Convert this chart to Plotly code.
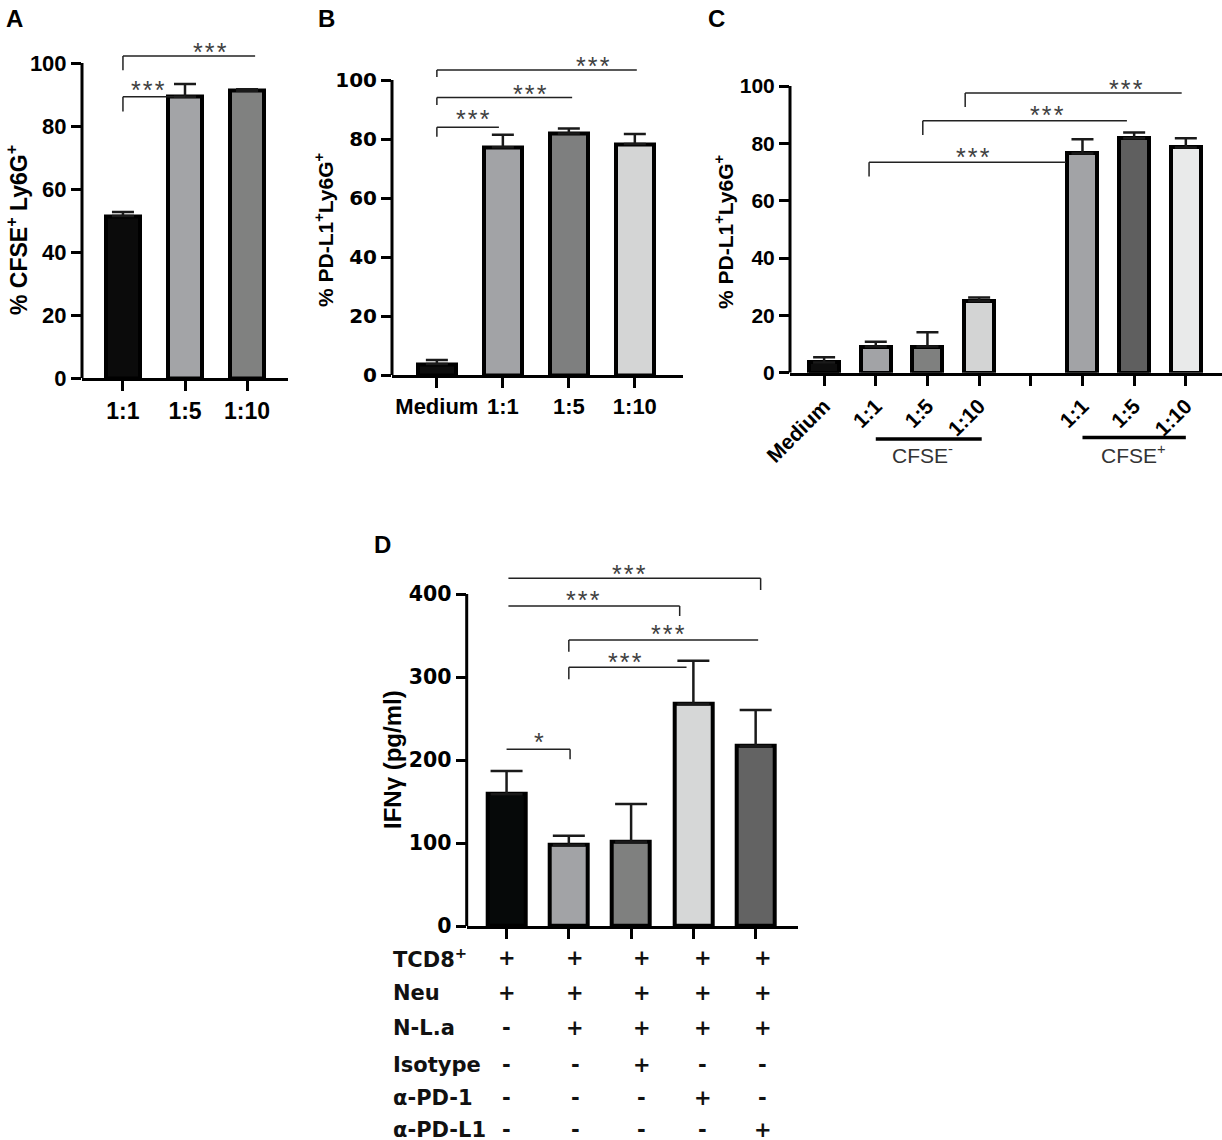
import plotly.graph_objects as go

W, H = 1222, 1140

# A: % CFSE+ Ly6G+
a_cats = ["1:1", "1:5", "1:10"]
a_mean = [51.4, 89.3, 91.2]
a_err = [1.3, 4.0, 0.5]
a_fill = ["#0b0b0b", "#a3a4a7", "#808180"]

# B: % PD-L1+ Ly6G+
b_cats = ["Medium", "1:1", "1:5", "1:10"]
b_mean = [3.7, 77.2, 81.9, 78.3]
b_err = [1.4, 4.2, 1.7, 3.4]
b_fill = ["#0d0d0d", "#a2a3a6", "#7e7f7f", "#d4d5d5"]

# C: % PD-L1+ Ly6G+ split by CFSE
c_cats = ["Medium", "1:1", "1:5", "1:10", "1:1", "1:5", "1:10"]
c_slot = [0, 1, 2, 3, 5, 6, 7]
c_mean = [3.6, 9.1, 9.1, 25.0, 76.5, 81.8, 78.6]
c_err = [1.8, 1.7, 5.0, 1.2, 4.9, 2.0, 3.2]
c_fill = ["#0d0d0d", "#a2a3a6", "#7f807f", "#d3d4d4", "#a2a3a6", "#5f5f5f", "#e9eaea"]

# D: IFNg (pg/ml)
d_mean = [158.7, 97.6, 101.6, 267.5, 216.9]
d_err = [28.0, 11.2, 45.4, 52.1, 43.3]
d_fill = ["#060909", "#a2a3a6", "#7f807f", "#d6d7d7", "#636363"]
d_rows = ["TCD8<sup>+</sup>", "Neu", "N-L.a", "Isotype", "α-PD-1", "α-PD-L1"]
d_marks = [
    ["+", "+", "+", "+", "+"],
    ["+", "+", "+", "+", "+"],
    ["-", "+", "+", "+", "+"],
    ["-", "-", "+", "-", "-"],
    ["-", "-", "-", "+", "-"],
    ["-", "-", "-", "-", "+"],
]
d_col_shift = [0.0, 0.1, 0.17, 0.15, 0.11]

# significance brackets: x0, x1, y, drop x, drop to, star x, star y, text
a_sig = [(0, 1, 89.3, 0, 84.6, 0.40, 92.5, "***"),
         (0, 2.13, 102.2, 0, 97.7, 1.40, 104.7, "***")]
b_sig = [(0, 0.94, 84.0, 0, 80.8, 0.55, 87.8, "***"),
         (0, 2.05, 94.1, 0, 91.5, 1.41, 96.6, "***"),
         (0, 3.03, 103.4, 0, 101.0, 2.37, 105.8, "***")]
c_sig = [(0.87, 4.68, 73.4, 0.87, 68.4, 2.88, 76.5, "***"),
         (1.91, 5.86, 87.9, 1.91, 82.9, 4.31, 91.0, "***"),
         (2.73, 6.92, 97.6, 2.73, 92.7, 5.85, 100.3, "***")]
d_sig = [(0, 1.02, 213, 1.02, 200.8, 0.52, 226, "*"),
         (1, 2.89, 311.7, 1, 297.2, 1.90, 322.5, "***"),
         (1, 4.04, 344.6, 1, 330.5, 2.59, 355.8, "***"),
         (0.03, 2.78, 385.5, 2.78, 373.5, 1.23, 396.7, "***"),
         (0.03, 4.08, 418.9, 4.08, 404.8, 1.97, 428, "***")]


def px(x):
    return x / W


def py(y):
    return 1 - y / H


FONT = "Liberation Sans"
WIDE = "DejaVu Sans"
fig = go.Figure()
shapes = []
annos = []


def add_panel(n, xs, means, errs, fills, barw, capw):
    fig.add_trace(go.Bar(
        x=xs, y=means, width=barw,
        marker=dict(color=fills, line=dict(color="black", width=4)),
        error_y=dict(type="data", symmetric=False, array=errs,
                     arrayminus=[0] * len(errs), thickness=2.5,
                     width=capw, color="#1a1a1a"),
        xaxis="x" + n, yaxis="y" + n, showlegend=False, hoverinfo="skip",
    ))


def add_sig(n, sig):
    for x0, x1, y, dx, dy, sx, sy, t in sig:
        line = dict(color="#222", width=1.5)
        shapes.append(dict(type="line", xref="x" + n, yref="y" + n,
                           x0=x0, x1=x1, y0=y, y1=y, line=line))
        shapes.append(dict(type="line", xref="x" + n, yref="y" + n,
                           x0=dx, x1=dx, y0=y, y1=dy, line=line))
        annos.append(dict(xref="x" + n, yref="y" + n, x=sx, y=sy,
                          text="\u200a".join(t), showarrow=False, yshift=-3.5,
                          xanchor="center", yanchor="middle",
                          font=dict(size=25, color="#404040", family=FONT)))


def yline(n, top):
    shapes.append(dict(type="line", xref="x%s domain" % n, yref="y" + n,
                       x0=0, x1=0, y0=0, y1=top,
                       line=dict(color="black", width=3)))


add_panel("", [0, 1, 2], a_mean, a_err, a_fill, 0.56, 11)
add_panel("2", [0, 1, 2, 3], b_mean, b_err, b_fill, 0.58, 11)
add_panel("3", c_slot, c_mean, c_err, c_fill, 0.58, 11)
add_panel("4", [0, 1, 2, 3, 4], d_mean, d_err, d_fill, 0.61, 16)

for n, s in [("", a_sig), ("2", b_sig), ("3", c_sig), ("4", d_sig)]:
    add_sig(n, s)
yline("", 100)
yline("2", 100)
yline("3", 100)
yline("4", 400)

bold = dict(family=FONT, color="black", weight="bold")


def xax(dom, rng, vals, text, size, angle=0, anchor="y", labels=True):
    return dict(domain=[px(dom[0]), px(dom[1])], range=rng, anchor=anchor,
                showline=True, linewidth=3, linecolor="black",
                ticks="outside", ticklen=10, tickwidth=3, tickcolor="black",
                tickvals=vals, ticktext=text, tickangle=angle,
                showticklabels=labels, automargin=False,
                tickfont=dict(bold, size=size), showgrid=False, zeroline=False)


def yax(dom, rng, vals, size, anchor="x", family=FONT):
    return dict(domain=[py(dom[0]), py(dom[1])], range=rng, anchor=anchor,
                showline=False, ticks="outside", ticklen=10, tickwidth=3,
                tickcolor="black", tickvals=vals, automargin=False,
                tickfont=dict(bold, size=size, family=family),
                showgrid=False, zeroline=False)


# group underlines in C
for x0, x1, yy, lab, cx in [(1, 3.05, 439, "CFSE<sup>-</sup>", 922),
                            (5, 7, 437.5, "CFSE<sup>+</sup>", 1133)]:
    shapes.append(dict(type="line", xref="x3", yref="paper", x0=x0, x1=x1,
                       y0=py(yy), y1=py(yy), line=dict(color="black", width=3.5)))
    annos.append(dict(xref="paper", yref="paper", x=px(cx), y=py(454), text=lab,
                      xanchor="center", yanchor="middle", showarrow=False,
                      font=dict(family=FONT, size=21, color="#333")))

# panel letters
for lab, x, y in [("A", 4, 3), ("B", 316, 3), ("C", 706, 3), ("D", 372, 529)]:
    annos.append(dict(xref="paper", yref="paper", x=px(x), y=py(y), text=lab,
                      xanchor="left", yanchor="top", showarrow=False,
                      font=dict(bold, size=24)))

# y titles
for t, x, y, s in [("% CFSE<sup>+</sup> Ly6G<sup>+</sup>", 17, 230, 23),
                   ("% PD-L1<sup>+</sup>Ly6G<sup>+</sup>", 324, 230, 21),
                   ("% PD-L1<sup>+</sup>Ly6G<sup>+</sup>", 724, 232, 21),
                   ("IFNγ (pg/ml)", 392, 760, 24)]:
    annos.append(dict(xref="paper", yref="paper", x=px(x), y=py(y), text=t,
                      textangle=-90, xanchor="center", yanchor="middle",
                      showarrow=False, font=dict(bold, size=s)))

# treatment table under D
row_y = [958, 993, 1028, 1065, 1098, 1130]
tab_font = dict(family=WIDE, size=21, color="#111", weight="bold")
for r, lab in enumerate(d_rows):
    annos.append(dict(xref="paper", yref="paper", x=px(391), y=py(row_y[r]),
                      text=lab, xanchor="left", yanchor="middle",
                      showarrow=False, font=tab_font))
    for c, m in enumerate(d_marks[r]):
        annos.append(dict(xref="x4", yref="paper", x=c + d_col_shift[c],
                          y=py(row_y[r]), text=m, xanchor="center",
                          yanchor="middle", showarrow=False, font=tab_font))

fig.update_layout(
    template="none",
    width=W, height=H, margin=dict(l=0, r=0, t=0, b=0, autoexpand=False),
    paper_bgcolor="white", plot_bgcolor="white", showlegend=False,
    bargap=0, font=dict(family=FONT, color="black"),
    xaxis=xax((82, 288), [-0.66, 2.66], [0, 1, 2], a_cats, 23, anchor="y"),
    yaxis=yax((378, 31.5), [0, 110], [0, 20, 40, 60, 80, 100], 22, anchor="x"),
    xaxis2=xax((392, 683), [-0.68, 3.73], [0, 1, 2, 3], b_cats, 22, anchor="y2"),
    yaxis2=yax((375, 56.4), [0, 108], [0, 20, 40, 60, 80, 100], 20,
               anchor="x2", family=WIDE),
    xaxis3=xax((790, 1222), [-0.66, 7.7], [0, 1, 2, 3, 4, 5, 6, 7],
               c_cats[:4] + [""] + c_cats[4:], 21, angle=-45, anchor="y3"),
    yaxis3=yax((372.7, 63.1), [0, 108], [0, 20, 40, 60, 80, 100], 21, anchor="x3"),
    xaxis4=xax((466.7, 798), [-0.64, 4.68], [0, 1, 2, 3, 4], None, 10,
               anchor="y4", labels=False),
    yaxis4=yax((926, 560.8), [0, 440], [0, 100, 200, 300, 400], 20.5,
               anchor="x4", family=WIDE),
    shapes=shapes, annotations=annos,
)

fig.write_html("out.html", config={"displayModeBar": False},
               post_script="document.body.style.margin='0';")
